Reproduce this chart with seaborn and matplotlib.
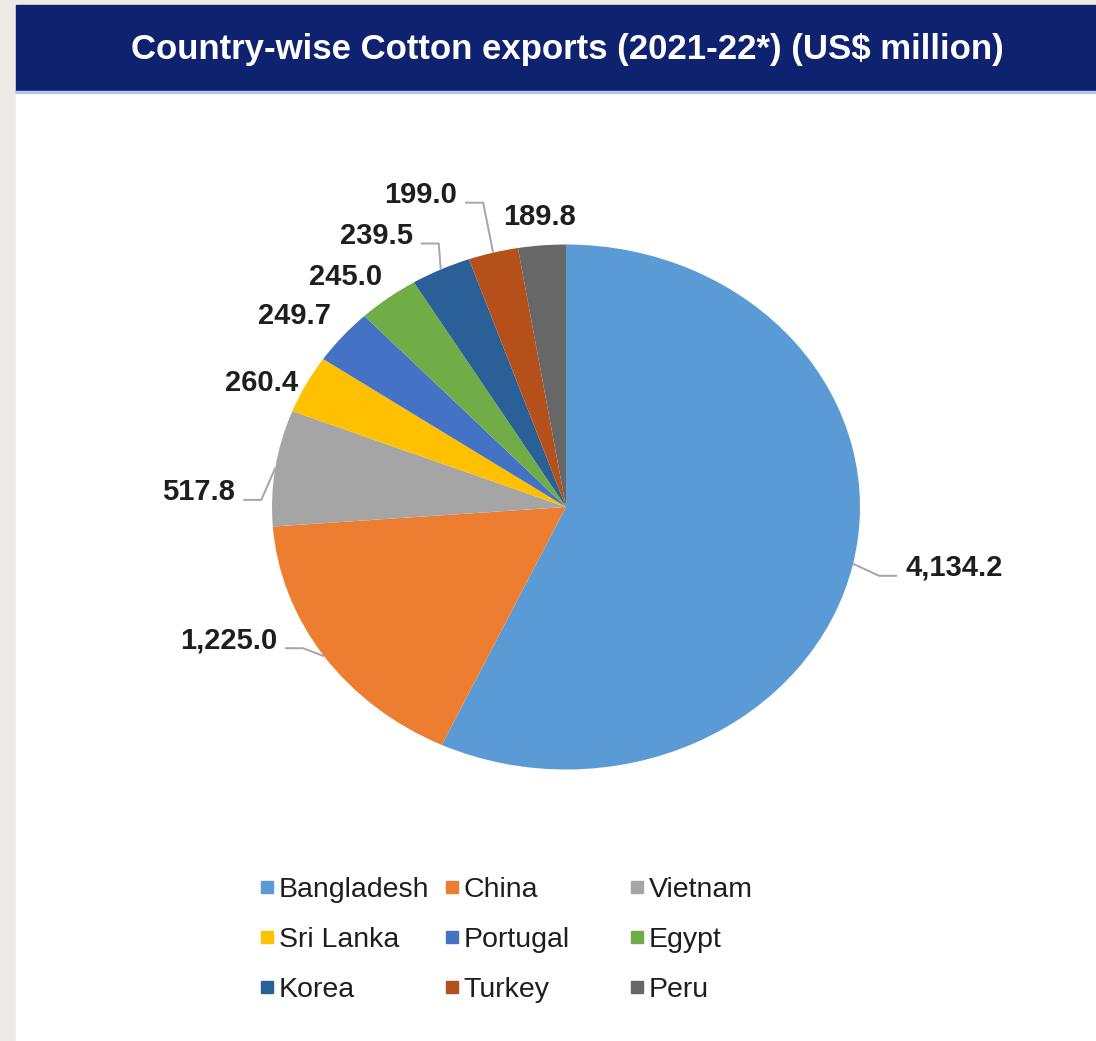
import numpy as np
import matplotlib
matplotlib.use("Agg")
import matplotlib.pyplot as plt
import seaborn as sns
from matplotlib.patches import Rectangle
from matplotlib.lines import Line2D

# ---------------- data ----------------
countries = ["Bangladesh", "China", "Vietnam", "Sri Lanka", "Portugal",
             "Egypt", "Korea", "Turkey", "Peru"]
exports = [4134.2, 1225.0, 517.8, 260.4, 249.7, 245.0, 239.5, 199.0, 189.8]
value_labels = ["4,134.2", "1,225.0", "517.8", "260.4", "249.7",
                "245.0", "239.5", "199.0", "189.8"]
title = "Country-wise Cotton exports (2021-22*) (US$ million)"

# ---------------- style ----------------
colors = ["#5B9BD5", "#ED7D31", "#A5A5A5", "#FFC000", "#4472C4",
          "#70AD47", "#2A5F97", "#B5501A", "#676767"]
# label layout: offset (px) from wedge edge at mid-angle, alignment, leader line
label_layout = [(52, -4, "left", True), (-47, 16, "right", True),
                (-40, -24, "right", True), (-8, 1, "right", False),
                (-12, 20, "right", False), (-6, 21, "right", False),
                (-28, 34, "right", True), (-36, 58, "right", True),
                (-2, 28, "center", False)]

sns.set_theme(style="white")
plt.rcParams["font.family"] = ["Liberation Sans", "DejaVu Sans"]

W, H = 1096, 1041
fig = plt.figure(figsize=(W / 100, H / 100), dpi=100, facecolor="#EEEBE4")

# white panel, title bar
fig.patches.append(Rectangle((16 / W, 0), 1 - 16 / W, 1 - 92 / H,
                             transform=fig.transFigure, color="white", zorder=-10))
fig.patches.append(Rectangle((16 / W, 1 - 92 / H), 1 - 16 / W, 87 / H,
                             transform=fig.transFigure, color="#0F2270", zorder=-9))
fig.patches.append(Rectangle((16 / W, 1 - 93 / H), 1 - 16 / W, 1.5 / H,
                             transform=fig.transFigure, color="#B4C7E7", zorder=-8))
fig.text(567 / W, 1 - 49 / H, title, color="white", fontsize=25,
         fontweight="bold", ha="center", va="center")

# pie axes spanning the figure; ellipse geometry in pixels
CX, CY, RX, RY = 566, 507, 294, 262.5
ax = fig.add_axes([0, 0, 1, 1])
ax.pie(exports, colors=colors, startangle=90, counterclock=False, radius=1,
       wedgeprops=dict(linewidth=0))
ax.set_aspect("auto")
ax.set_xlim(-CX / RX, (W - CX) / RX)
ax.set_ylim(-(H - CY) / RY, CY / RY)
ax.axis("off")
ax.patch.set_alpha(0)

fr = np.array(exports) / np.sum(exports)
cum = np.concatenate([[0], np.cumsum(fr)[:-1]])
mid = np.deg2rad(360 * (cum + fr / 2))
ex, ey = np.sin(mid), np.cos(mid)

for i, (dx, dy, ha, leader) in enumerate(label_layout):
    tx = ex[i] + dx / RX
    ty = ey[i] + dy / RY
    ax.text(tx, ty, value_labels[i], fontsize=21, fontweight="bold",
            color="#1E1E1E", ha=ha, va="center")
    if leader:
        sgn = 1 if ha == "right" else -1
        ax_ = tx + sgn * 8 / RX
        ay_ = ty - 8 / RY
        bx = ax_ + sgn * 18 / RX
        ax.plot([ax_, bx, ex[i]], [ay_, ay_, ey[i]], color="#A6A6A6",
                lw=1.4, solid_capstyle="butt")

# legend: 3 equal-width columns, filled row-wise
col_left = [260, 445, 630]
for c in range(3):
    idx = [c, c + 3, c + 6]
    handles = [Line2D([], [], marker="s", ls="", color=colors[j], markersize=9)
               for j in idx]
    fig.legend(handles, [countries[j] for j in idx], loc="center left",
               bbox_to_anchor=(col_left[c] / W, 1 - 940 / H), frameon=False,
               fontsize=20.5, handlelength=0.5, handletextpad=0.15,
               labelspacing=0.85, borderpad=0, borderaxespad=0,
               labelcolor="#1E1E1E")

fig.savefig("out.png", dpi=100, facecolor=fig.get_facecolor())
